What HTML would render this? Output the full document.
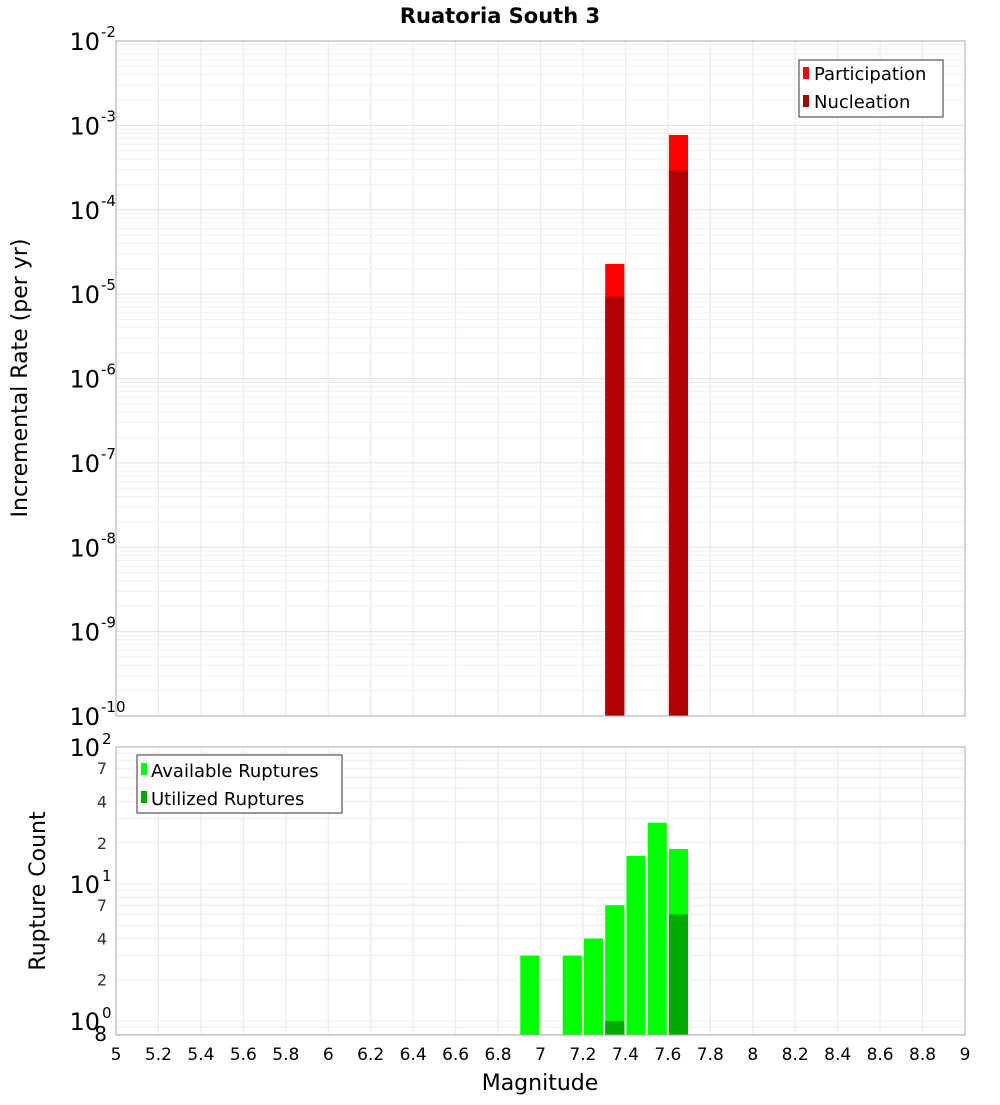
<!DOCTYPE html>
<html><head><meta charset="utf-8"><style>
body{margin:0;background:#fff;font-family:"Liberation Sans","DejaVu Sans",sans-serif}
svg text{font-family:"DejaVu Sans","Liberation Sans",sans-serif}
</style></head><body>
<svg id="c" width="1000" height="1100" xmlns="http://www.w3.org/2000/svg">
<rect width="1000" height="1100" fill="#fff"/>
<text x="500" y="23" font-size="21" font-weight="bold" text-anchor="middle">Ruatoria South 3</text>
<g id="topg"></g><g id="botg"></g>
<text transform="translate(27,378) rotate(-90)" font-size="22" text-anchor="middle">Incremental Rate (per yr)</text>
<text transform="translate(45,891) rotate(-90)" font-size="22" text-anchor="middle">Rupture Count</text>
<text x="540" y="1090" font-size="22" text-anchor="middle">Magnitude</text>
<g>
<rect x="799" y="60" width="144" height="57" fill="#fff" stroke="#333"/>
<rect x="803" y="67" width="6" height="12" fill="#ff0000"/><text x="814" y="80" font-size="18">Participation</text>
<rect x="803" y="95" width="6" height="12" fill="#b00000"/><text x="814" y="108" font-size="18">Nucleation</text>
</g>
<g>
<rect x="137" y="755" width="205" height="58" fill="#fff" stroke="#333"/>
<rect x="141" y="763" width="6" height="12" fill="#00ff00"/><text x="151" y="777" font-size="18">Available Ruptures</text>
<rect x="141" y="791" width="6" height="12" fill="#00aa00"/><text x="151" y="805" font-size="18">Utilized Ruptures</text>
</g>
</svg>
<script>
const binCenters=[7.35,7.65];
const participation=[2.28e-5,7.7e-4];
const nucleation=[9.3e-6,2.9e-4];
const countCenters=[6.95,7.15,7.25,7.35,7.45,7.55,7.65];
const available=[3,3,4,7,16,28,18];
const utilized=[0,0,0,1,0,0,6];
const xTicks=[5,5.2,5.4,5.6,5.8,6,6.2,6.4,6.6,6.8,7,7.2,7.4,7.6,7.8,8,8.2,8.4,8.6,8.8,9];
const topExps=[-2,-3,-4,-5,-6,-7,-8,-9,-10];
const botLabels=["7","4","2","7","4","2"];

const NS="http://www.w3.org/2000/svg";
const X0=116,X1=965;
const x=m=>X0+(m-5)/4*(X1-X0);
const TY0=41,TY1=716;
const yT=v=>TY0+(-2-Math.log10(v))/8*(TY1-TY0);
const BY0=747,BY1=1035,BMIN=Math.log10(0.79);
const yB=v=>BY0+(2-Math.log10(v))/(2-BMIN)*(BY1-BY0);
function el(p,t,a,txt){const e=document.createElementNS(NS,t);for(const k in a)e.setAttribute(k,a[k]);if(txt!==undefined)e.textContent=txt;p.appendChild(e);return e;}
const gTop=document.getElementById('topg'),gBot=document.getElementById('botg');
xTicks.forEach(t=>{
 el(gTop,'line',{x1:x(t),x2:x(t),y1:TY0,y2:TY1,stroke:'#e8e8e8'});
 el(gBot,'line',{x1:x(t),x2:x(t),y1:BY0,y2:BY1,stroke:'#e8e8e8'});
});
for(let e=-10;e<-2;e++)for(let k=1;k<10;k++){const y=yT(k*Math.pow(10,e));el(gTop,'line',{x1:X0,x2:X1,y1:y,y2:y,stroke:k==1?'#e0e0e0':'#efefef'});}
for(let e=-1;e<2;e++)for(let k=1;k<10;k++){const v=k*Math.pow(10,e);if(v<0.79)continue;const y=yB(v);el(gBot,'line',{x1:X0,x2:X1,y1:y,y2:y,stroke:'#ececec'});}
const bw=0.09;
binCenters.forEach((c,i)=>{
 let r=el(gTop,'rect',{x:x(c-bw/2),width:x(c+bw/2)-x(c-bw/2),y:yT(participation[i]),height:TY1-yT(participation[i]),fill:'#ff0000'});
 
 
 r=el(gTop,'rect',{x:x(c-bw/2),width:x(c+bw/2)-x(c-bw/2),y:yT(nucleation[i]),height:TY1-yT(nucleation[i]),fill:'#b00000'});
 
 
});
countCenters.forEach((c,i)=>{
 if(available[i]>0){let r=el(gBot,'rect',{x:x(c-bw/2),width:x(c+bw/2)-x(c-bw/2),y:yB(available[i]),height:BY1-yB(available[i]),fill:'#00ff00'});
 
 }
 if(utilized[i]>0){let r=el(gBot,'rect',{x:x(c-bw/2),width:x(c+bw/2)-x(c-bw/2),y:yB(utilized[i]),height:BY1-yB(utilized[i]),fill:'#00aa00'});
 
 }
});
el(gTop,'rect',{x:X0,y:TY0,width:X1-X0,height:TY1-TY0,fill:'none',stroke:'#aaa'});
el(gBot,'rect',{x:X0,y:BY0,width:X1-X0,height:BY1-BY0,fill:'none',stroke:'#aaa'});
topExps.forEach(e=>{
 const y=yT(Math.pow(10,e));
 const t=el(gTop,'text',{x:100,y:y+9,'font-size':24,'text-anchor':'end'},'10');
 
 
 el(gTop,'text',{x:101,y:y-4,'font-size':15},String(e));
});
[[100,'2'],[10,'1'],[1,'0']].forEach(([v,e])=>{
 const y=yB(v);
 const t=el(gBot,'text',{x:100,y:y+9,'font-size':24,'text-anchor':'end'},'10');
 
 
 el(gBot,'text',{x:102,y:y-3,'font-size':15},e);
});
[70,40,20,7,4,2].forEach((v,i)=>{
 el(gBot,'text',{x:107,y:yB(v)+6,'font-size':16,'text-anchor':'end',fill:'#333'},botLabels[i]);
});
el(gBot,'text',{x:107,y:1041,'font-size':20,'text-anchor':'end'},'8');
xTicks.forEach(t=>{
 const e=el(gBot,'text',{x:x(t),y:1060,'font-size':17,'text-anchor':'middle'},String(t));
 
 
});
</script>
</body></html>
